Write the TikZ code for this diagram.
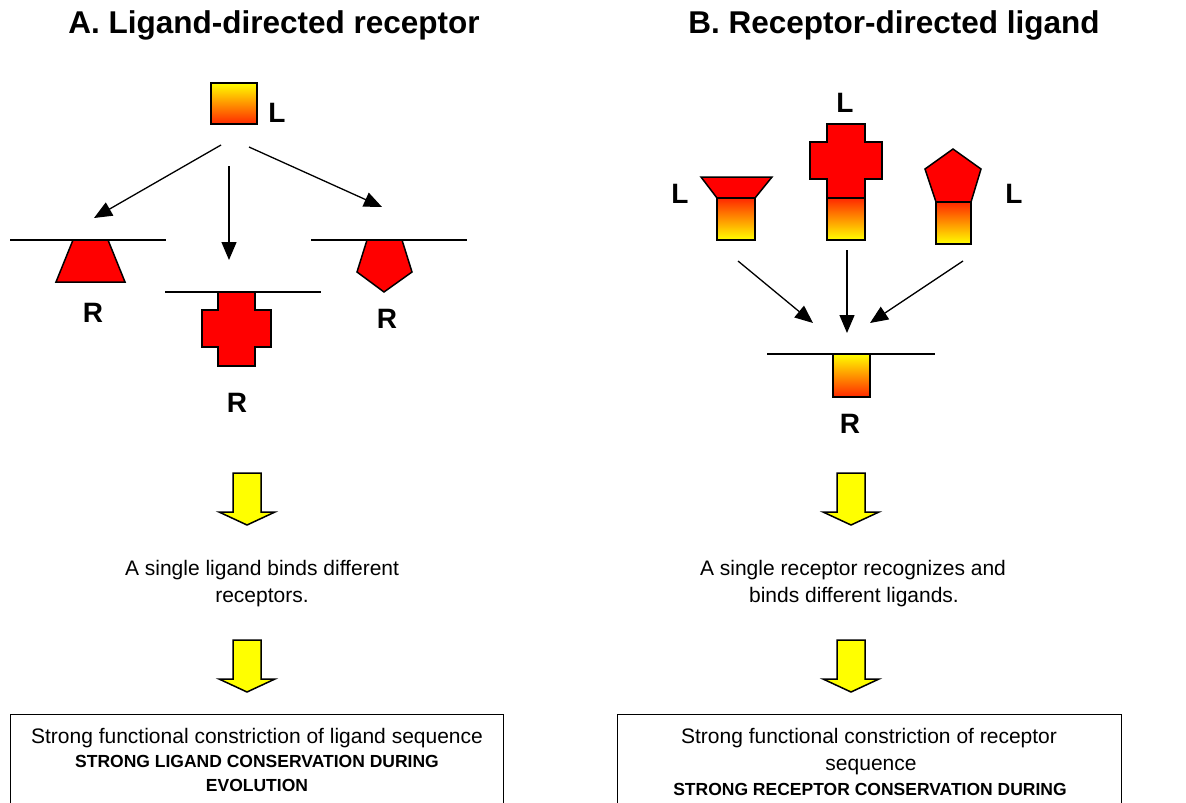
\documentclass[tikz,border=0pt]{standalone}
\usepackage{fontspec}
\setmainfont{Liberation Sans}
\usetikzlibrary{arrows.meta}
\definecolor{gyel}{RGB}{255,255,0}
\definecolor{gred}{RGB}{255,40,0}
\definecolor{shred}{RGB}{255,0,0}
\tikzset{
  memb/.style={line width=1.4pt},
  link/.style={line width=1.3pt,-{Triangle[length=18pt,width=15pt]}},
  redshape/.style={fill=shred,draw=black,line width=1.5pt,line join=miter},
  gradYR/.style={top color=gyel,bottom color=gred,draw=black,line width=1.5pt},
  gradRY/.style={top color=gred,bottom color=gyel,draw=black,line width=1.5pt},
  lbl/.style={font=\bfseries\fontsize{28}{30}\selectfont,anchor=base,inner sep=0pt},
  ttl/.style={font=\bfseries\fontsize{31.5}{34}\selectfont,anchor=base,inner sep=0pt},
  body/.style={font=\fontsize{21}{25}\selectfont,anchor=base,inner sep=0pt},
  bodyb/.style={font=\bfseries\fontsize{17.5}{21}\selectfont,anchor=base,inner sep=0pt},
  txtbox/.style={draw=black,line width=1.4pt,anchor=north west,inner sep=0pt},
  blockarr/.pic={\draw[fill=gyel,draw=black,line width=1.5pt,line join=miter]
     (-14,0) -- (14,0) -- (14,39) -- (28,39) -- (0,52) -- (-28,39) -- (-14,39) -- cycle;}
}
\begin{document}
\begin{tikzpicture}[x=1pt,y=-1pt]
\useasboundingbox (0,0) rectangle (1186,803);
\clip (0,0) rectangle (1186,803);

% titles
\node[ttl] (tA) at (274,33) {A. Ligand-directed receptor};
\node[ttl] (tB) at (894,33) {B. Receptor-directed ligand};

% ===== Panel A =====
\shade[gradYR] (211,83) rectangle (257,124);
\node[lbl] (LA) at (277,122) {L};

% membranes
\draw[memb] (10,240) -- (166,240);
\draw[memb] (165,292) -- (321,292);
\draw[memb] (311,240) -- (467,240);

% receptors
\draw[redshape] (73,240) -- (108,240) -- (125,282) -- (56,282) -- cycle;
\draw[redshape] (218,292) -- (255,292) -- (255,310) -- (271,310) -- (271,347) -- (255,347)
   -- (255,366) -- (218,366) -- (218,347) -- (202,347) -- (202,310) -- (218,310) -- cycle;
\draw[redshape] (367,240) -- (402,240) -- (412,272) -- (384,292) -- (357,272) -- cycle;

\node[lbl] (R1) at (93,322) {R};
\node[lbl] (R2) at (237,412) {R};
\node[lbl] (R3) at (387,328) {R};

% arrows A
\coordinate (a1s) at (221,145); \coordinate (a1e) at (94,218);
\coordinate (a2s) at (229,166); \coordinate (a2e) at (229,260);
\coordinate (a3s) at (249,147); \coordinate (a3e) at (382,207);
\draw[link] (a1s) -- (a1e);
\draw[link] (a2s) -- (a2e);
\draw[link] (a3s) -- (a3e);

% block arrows A
\pic at (247,473) {blockarr};
\pic at (247,640) {blockarr};

\node[body] (mA1) at (262,575) {A single ligand binds different};
\node[body] (mA2) at (262,602) {receptors.};

\node[txtbox,minimum width=493pt,minimum height=120pt] (boxA) at (10,714) {};
\node[body] (bA1) at (257,743) {Strong functional constriction of ligand sequence};
\node[bodyb] (bA2) at (257,767) {STRONG LIGAND CONSERVATION DURING};
\node[bodyb] (bA3) at (257,791) {EVOLUTION};

% ===== Panel B =====
% ligands
\draw[redshape] (701,177) -- (772,177) -- (755,198) -- (717,198) -- cycle;
\shade[gradRY] (717,198) rectangle (755,240);
\draw[redshape] (827,124) -- (865,124) -- (865,142) -- (882,142) -- (882,179) -- (865,179)
   -- (865,198) -- (827,198) -- (827,179) -- (810,179) -- (810,142) -- (827,142) -- cycle;
\shade[gradRY] (827,198) rectangle (865,240);
\draw[redshape] (953,149) -- (981,169) -- (971,202) -- (936,202) -- (925,169) -- cycle;
\shade[gradRY] (936,202) rectangle (971,244);

\node[lbl] (LB1) at (680,203) {L};
\node[lbl] (LB2) at (845,112) {L};
\node[lbl] (LB3) at (1014,203) {L};

% membrane + receptor
\draw[memb] (767,354) -- (935,354);
\shade[gradYR] (833,354) rectangle (870,397);
\node[lbl] (RB) at (850,433) {R};

% arrows B
\coordinate (b1s) at (738,261); \coordinate (b1e) at (813,323);
\coordinate (b2s) at (847,250); \coordinate (b2e) at (847,333);
\coordinate (b3s) at (963,261); \coordinate (b3e) at (870,323);
\draw[link] (b1s) -- (b1e);
\draw[link] (b2s) -- (b2e);
\draw[link] (b3s) -- (b3e);

% block arrows B
\pic at (851,473) {blockarr};
\pic at (851,640) {blockarr};

\node[body] (mB1) at (853,575) {A single receptor recognizes and};
\node[body] (mB2) at (854,602) {binds different ligands.};

\node[txtbox,minimum width=504pt,minimum height=120pt] (boxB) at (617,714) {};
\node[body] (bB1) at (869,743) {Strong functional constriction of receptor};
\node[body] (bB2) at (871,770) {sequence};
\node[bodyb] (bB3) at (870,795) {STRONG RECEPTOR CONSERVATION DURING};
\end{tikzpicture}
\end{document}
